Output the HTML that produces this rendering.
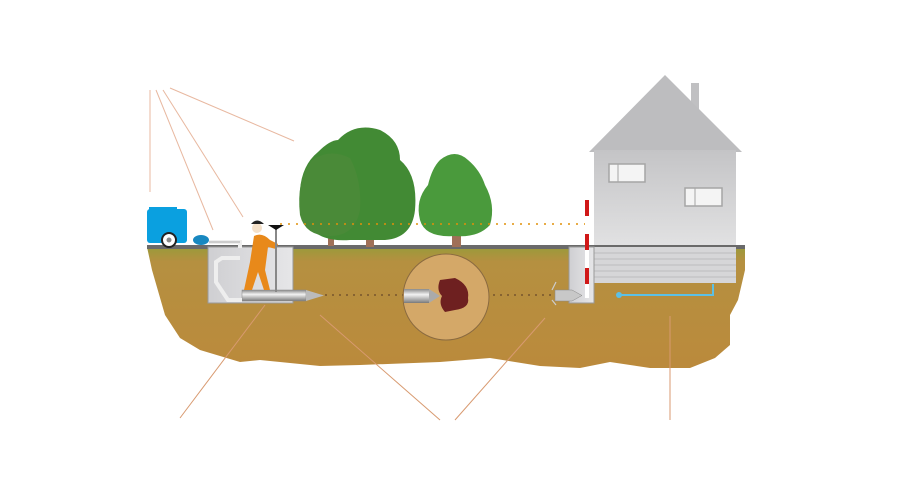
<!DOCTYPE html>
<html><head><meta charset="utf-8"><style>html,body{margin:0;padding:0;background:#fff}svg{display:block}</style></head><body>
<svg width="908" height="487" viewBox="0 0 908 487" xmlns="http://www.w3.org/2000/svg">
<defs>
<linearGradient id="gr" x1="0" y1="0" x2="0" y2="1"><stop offset="0" stop-color="#9a9a3a"/><stop offset="0.12" stop-color="#b59040"/><stop offset="1" stop-color="#bb8a3c"/></linearGradient>
<linearGradient id="hw" x1="0" y1="0" x2="0" y2="1"><stop offset="0" stop-color="#c4c4c6"/><stop offset="1" stop-color="#e2e2e3"/></linearGradient>
<linearGradient id="pit" x1="0" y1="0" x2="1" y2="0"><stop offset="0" stop-color="#cfcfd2"/><stop offset="1" stop-color="#e6e6e8"/></linearGradient>
<linearGradient id="pipe" x1="0" y1="0" x2="0" y2="1"><stop offset="0" stop-color="#8a8a8a"/><stop offset="0.4" stop-color="#f2f2f2"/><stop offset="1" stop-color="#7a7a7a"/></linearGradient>
</defs>
<!-- leader lines -->
<g stroke="#e8b8a0" stroke-width="1" fill="none">
<line x1="150" y1="90" x2="150" y2="192"/><line x1="156" y1="90" x2="213" y2="230"/><line x1="163" y1="90" x2="243" y2="217"/><line x1="170" y1="88" x2="294" y2="141"/>
</g>
<!-- house -->
<rect x="691" y="83" width="8" height="30" fill="#c0c0c2"/>
<polygon points="589,152 665,75 742,152" fill="#bdbdbf"/>
<rect x="594" y="150" width="142" height="98" fill="url(#hw)"/>
<rect x="609" y="164" width="36" height="18" fill="#f4f4f4" stroke="#a5a5a5" stroke-width="1.5"/><line x1="618" y1="164" x2="618" y2="182" stroke="#a5a5a5"/>
<rect x="685" y="188" width="37" height="18" fill="#f4f4f4" stroke="#a5a5a5" stroke-width="1.5"/><line x1="695" y1="188" x2="695" y2="206" stroke="#a5a5a5"/>
<!-- ground -->
<polygon points="147,247 152,270 165,315 180,338 200,350 240,362 260,360 320,366 360,365 440,362 490,358 540,366 580,368 610,362 650,368 690,368 715,358 730,345 730,315 738,300 745,270 745,247" fill="url(#gr)"/>
<rect x="147" y="245" width="598" height="4" fill="#6a6a6a"/>
<!-- brick base -->
<rect x="594" y="247" width="142" height="36" fill="#d6d6d8"/>
<g stroke="#bcbcbe" stroke-width="1">
<line x1="594" y1="253" x2="736" y2="253"/><line x1="594" y1="259" x2="736" y2="259"/><line x1="594" y1="265" x2="736" y2="265"/><line x1="594" y1="271" x2="736" y2="271"/><line x1="594" y1="277" x2="736" y2="277"/>
</g>
<polyline points="619,295 713,295 713,284" fill="none" stroke="#5cc0e6" stroke-width="2"/><circle cx="619" cy="295" r="3" fill="#5cc0e6"/>
<line x1="670" y1="316" x2="670" y2="420" stroke="#d89a70"/>
<!-- trees -->
<rect x="366" y="225" width="8" height="22" fill="#a07058"/><rect x="452" y="228" width="9" height="19" fill="#a07058"/><rect x="328" y="222" width="6" height="24" fill="#a07058"/>
<path d="M338,140 Q355,122 380,130 Q400,140 400,160 Q418,175 415,210 Q412,238 385,240 L350,240 Q325,242 312,230 Q298,220 300,190 Q302,165 318,152 Q330,140 338,140Z" fill="#428a34"/>
<path d="M312,160 Q330,148 350,158 Q362,180 360,210 Q355,236 330,236 Q305,236 300,215 Q296,180 312,160Z" fill="#4a8a38"/>
<path d="M440,160 Q455,148 468,160 Q480,170 485,185 Q496,205 490,225 Q478,238 455,236 Q425,238 420,220 Q415,200 428,185 Q432,168 440,160Z" fill="#4a9a3c"/>
<!-- pits -->
<rect x="208" y="247" width="85" height="56" fill="url(#pit)" stroke="#999" stroke-width="1"/>
<rect x="569" y="247" width="25" height="56" fill="url(#pit)" stroke="#999" stroke-width="1"/>
<rect x="585" y="200" width="4" height="98" fill="#fff"/>
<g fill="#d01818"><rect x="585" y="200" width="4" height="16"/><rect x="585" y="234" width="4" height="16"/><rect x="585" y="268" width="4" height="16"/></g>
<!-- dotted lines -->
<line x1="280" y1="224" x2="585" y2="224" stroke="#e0900a" stroke-width="1.5" stroke-dasharray="2,6"/>
<line x1="325" y1="295" x2="555" y2="295" stroke="#6a4a2a" stroke-width="1.2" stroke-dasharray="2,5"/>
<!-- circle -->
<circle cx="446" cy="297" r="43" fill="#d4a868" stroke="#8a6a40" stroke-width="1"/>
<path d="M440,280 L455,278 Q470,285 468,298 Q470,308 455,310 L445,312 Q438,304 442,296 Q436,290 440,280Z" fill="#6e2020"/>
<rect x="404" y="289" width="25" height="14" fill="url(#pipe)"/><polygon points="429,289 440,296 429,303" fill="#aaa"/>
<!-- moling tool in pit and exit -->
<rect x="242" y="290" width="64" height="11" fill="url(#pipe)" stroke="#888" stroke-width="0.5"/><polygon points="306,290 324,295.5 306,301" fill="#bbb"/>
<polygon points="555,290 572,290 582,295.5 572,301 555,301" fill="#c8c8c8" stroke="#888" stroke-width="0.5"/>
<path d="M556,282 L552,290 M556,305 L552,300" stroke="#ccc" stroke-width="1.2"/>
<!-- hose -->
<path d="M209,242 L240,242 L240,248 M240,258 L222,258 L216,262 L216,282 L228,300 L242,300" fill="none" stroke="#eee" stroke-width="4"/>
<path d="M209,242 L240,242" stroke="#aaa" stroke-width="1"/>
<!-- compressor -->
<rect x="147" y="209" width="40" height="34" rx="3" fill="#0aa0e0"/><rect x="149" y="207" width="28" height="3" fill="#0aa0e0"/>
<circle cx="169" cy="240" r="7" fill="#fff" stroke="#222" stroke-width="2"/><circle cx="169" cy="240" r="2.5" fill="#888"/>
<ellipse cx="201" cy="240" rx="8" ry="5" fill="#1888c0"/>
<!-- worker -->
<path d="M254,236 Q262,232 270,240 L278,244 L276,249 L268,247 L265,270 L270,290 L264,290 L258,272 L252,290 L244,290 L250,262 Z" fill="#e8891a"/>
<circle cx="257" cy="228" r="5" fill="#f4e0c8"/><path d="M251,224 Q257,217 264,224 Z" fill="#222"/>
<line x1="276" y1="226" x2="276" y2="292" stroke="#888" stroke-width="2"/><path d="M268,225 L284,225 L276,230Z" fill="#111"/>
<!-- bottom leaders -->
<g stroke="#d89a70" stroke-width="1"><line x1="180" y1="418" x2="265" y2="305"/><line x1="440" y1="420" x2="320" y2="315"/><line x1="455" y1="420" x2="545" y2="318"/></g>
</svg>
</body></html>
